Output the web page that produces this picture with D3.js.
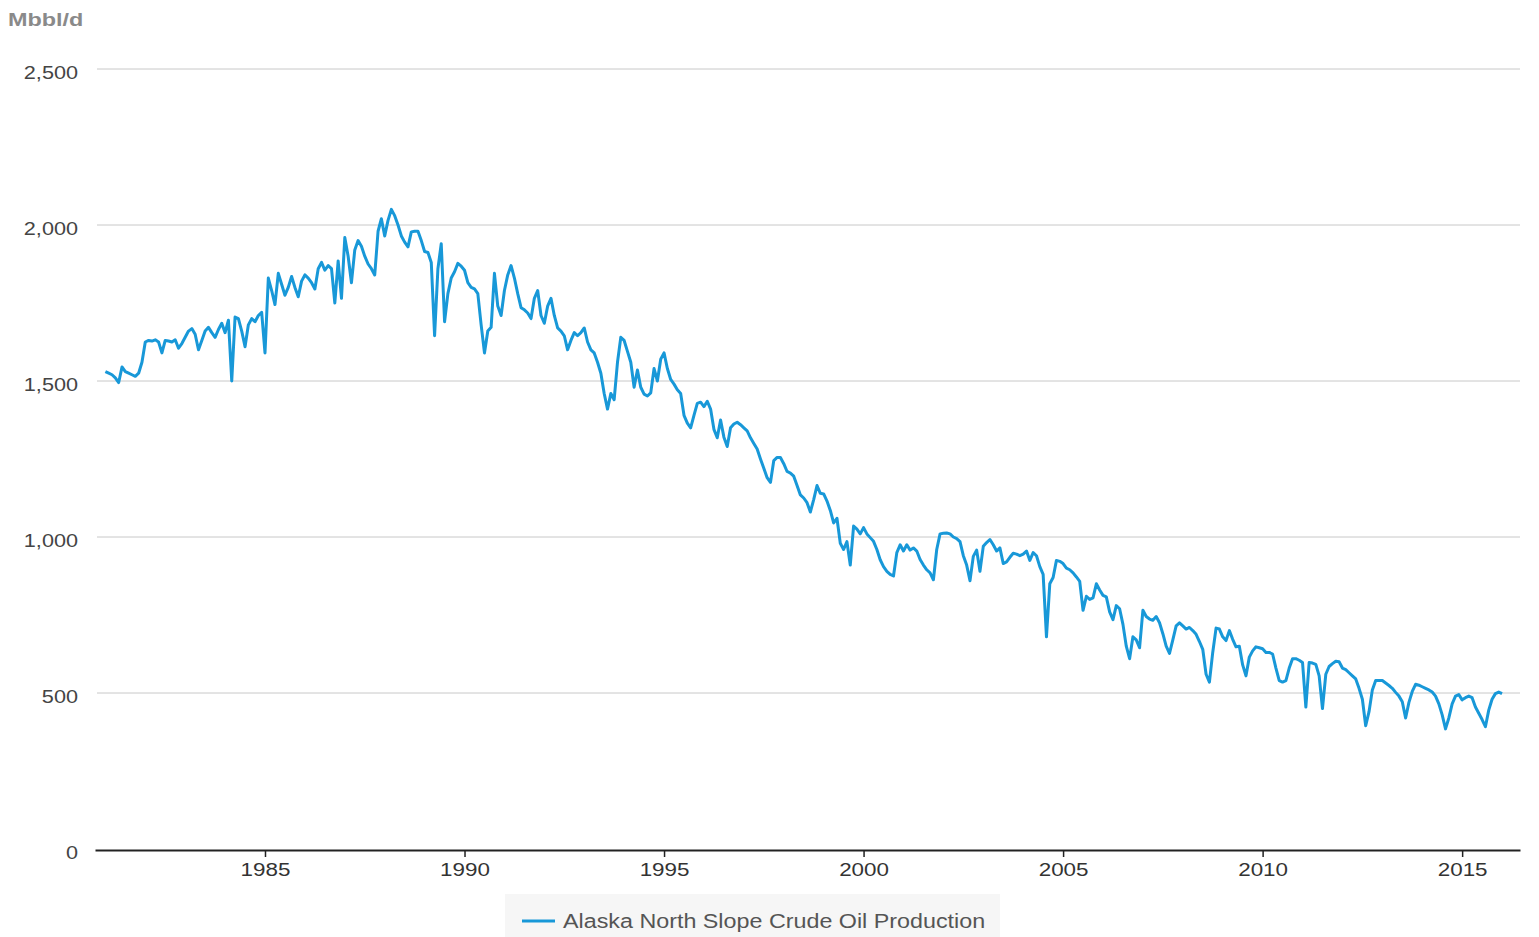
<!DOCTYPE html>
<html>
<head>
<meta charset="utf-8">
<script src="https://cdn.jsdelivr.net/npm/d3@7"></script>
<style>
  html, body { margin: 0; padding: 0; background: #fff; }
  svg { display: block; font-family: Arial, "Liberation Sans", sans-serif; }
</style>
</head>
<body>
<div id="chart"></div>
<script>
// Alaska North Slope crude oil production, monthly, Mbbl/d
const seriesName = 'Alaska North Slope Crude Oil Production';
const unitLabel = 'Mbbl/d';
const startYear = 1981;   // first value is January 1981
const yTicks = [0, 500, 1000, 1500, 2000, 2500];
const xTicks = [1985, 1990, 1995, 2000, 2005, 2010, 2015];

// one row per year, Jan..Dec
const prod1980s = [
    1530, 1525, 1520, 1510, 1495, 1545, 1530, 1525, 1520, 1515, 1525, 1560, // 1981
    1625, 1630, 1628, 1632, 1625, 1590, 1630, 1628, 1625, 1632, 1605, 1620, // 1982
    1640, 1660, 1668, 1650, 1600, 1630, 1660, 1672, 1655, 1640, 1665, 1685, // 1983
    1655, 1695, 1500, 1705, 1700, 1660, 1610, 1680, 1700, 1690, 1710, 1720, // 1984
    1590, 1830, 1790, 1745, 1845, 1810, 1775, 1800, 1835, 1800, 1770, 1820, // 1985
    1840, 1830, 1815, 1795, 1860, 1880, 1855, 1870, 1860, 1750, 1885, 1765, // 1986
    1960, 1900, 1815, 1920, 1950, 1932, 1900, 1875, 1860, 1840, 1980, 2020, // 1987
    1965, 2015, 2050, 2030, 2000, 1965, 1945, 1930, 1978, 1980, 1980, 1950, // 1988
    1915, 1912, 1880, 1645, 1860, 1940, 1690, 1780, 1830, 1850, 1877, 1868  // 1989
];
const prod1990s = [
    1855, 1815, 1800, 1795, 1780, 1680, 1590, 1660, 1672, 1845, 1740, 1710, // 1990
    1790, 1840, 1870, 1830, 1780, 1735, 1728, 1718, 1700, 1765, 1790, 1710, // 1991
    1685, 1740, 1765, 1710, 1670, 1660, 1645, 1600, 1630, 1655, 1645, 1655, // 1992
    1670, 1625, 1600, 1590, 1560, 1525, 1460, 1410, 1460, 1440, 1560, 1640, // 1993
    1630, 1595, 1560, 1480, 1535, 1480, 1458, 1452, 1462, 1540, 1500, 1570, // 1994
    1590, 1540, 1505, 1490, 1472, 1460, 1390, 1365, 1350, 1390, 1428, 1432, // 1995
    1418, 1435, 1410, 1345, 1318, 1375, 1320, 1290, 1350, 1362, 1368, 1360, // 1996
    1350, 1340, 1318, 1300, 1282, 1250, 1220, 1190, 1175, 1245, 1255, 1255, // 1997
    1235, 1210, 1205, 1195, 1165, 1135, 1125, 1110, 1080, 1120, 1165, 1140, // 1998
    1138, 1115, 1085, 1045, 1060, 980, 960, 985, 910, 1035, 1025, 1010      // 1999
];
const prod2000s = [
    1030, 1010, 998, 986, 960, 927, 905, 890, 880, 875, 950, 975,           // 2000
    955, 975, 958, 965, 955, 928, 910, 895, 885, 863, 960, 1010,            // 2001
    1012, 1013, 1010, 1000, 995, 985, 940, 910, 860, 938, 958, 890,         // 2002
    970, 982, 992, 975, 955, 965, 915, 920, 935, 948, 945, 940,             // 2003
    945, 955, 925, 950, 940, 905, 880, 680, 850, 870, 925, 922,             // 2004
    915, 900, 895, 885, 872, 858, 765, 810, 800, 805, 850, 830,             // 2005
    813, 808, 760, 735, 780, 770, 720, 650, 610, 680, 670, 645,             // 2006
    765, 745, 737, 733, 745, 725, 690, 650, 627, 670, 715, 725,             // 2007
    715, 705, 710, 700, 688, 665, 640, 560, 535, 630, 708, 705,             // 2008
    680, 668, 700, 672, 648, 650, 590, 555, 615, 635, 648, 645              // 2009
];
const prod2010s = [
    642, 630, 630, 625, 580, 540, 535, 540, 580, 610, 610, 605,             // 2010
    598, 455, 598, 596, 592, 555, 450, 560, 585, 594, 602, 600,             // 2011
    580, 575, 565, 555, 545, 515, 480, 395, 440, 510, 540, 540,             // 2012
    540, 532, 524, 515, 502, 490, 472, 420, 470, 505, 528, 525,             // 2013
    520, 515, 510, 503, 490, 465, 430, 385, 420, 465, 490, 495,             // 2014
    478, 485, 490, 485, 455, 435, 415, 392, 445, 480, 498, 503,             // 2015
    498                                                                     // 2016
];

const W = 1539, H = 937;
const lineColor = '#1898d8';
const stretch = 1.14;   // the source text is drawn a little wide

const data = [].concat(prod1980s, prod1990s, prod2000s, prod2010s)
    .map((v, i) => ({ t: startYear + i / 12, v: v }));

const svg = d3.select('#chart').append('svg')
    .attr('width', W)
    .attr('height', H);

// plot spans x 95..1520 (1985 at ~265, 2015 at ~1462)
const x = d3.scaleLinear()
    .domain([1980.74, 2016.45])
    .range([95, 1520]);

const y = d3.scaleLinear()
    .domain([0, 2500])
    .range([849, 69]);

// gridlines
svg.append('g')
    .selectAll('line')
    .data(yTicks.filter(d => d > 0))
    .join('line')
    .attr('x1', x.range()[0] + 2)
    .attr('x2', x.range()[1])
    .attr('y1', d => y(d))
    .attr('y2', d => y(d))
    .attr('stroke', '#c8c8c8')
    .attr('stroke-width', 1);

// y labels
svg.append('g')
    .selectAll('text')
    .data(yTicks)
    .join('text')
    .attr('transform', d => `translate(78,${y(d) + 3}) scale(${stretch},1)`)
    .attr('dy', '0.35em')
    .attr('text-anchor', 'end')
    .attr('font-size', 19)
    .attr('fill', '#444')
    .text(d => d3.format(',')(d));

// unit label
svg.append('text')
    .attr('transform', 'translate(8,26) scale(1.3,1)')
    .attr('font-size', 18)
    .attr('font-weight', 'bold')
    .attr('fill', '#8a8a8a')
    .text(unitLabel);

// x axis
const xAxis = svg.append('g')
    .attr('transform', `translate(0,${y(0) + 1})`)
    .call(d3.axisBottom(x)
        .tickValues(xTicks)
        .tickFormat(d3.format('d'))
        .tickSize(7)
        .tickSizeOuter(0));
xAxis.select('.domain').attr('stroke', '#222').attr('stroke-width', 2);
xAxis.selectAll('.tick line').attr('stroke', '#222').attr('stroke-width', 1.5);
xAxis.selectAll('.tick text')
    .attr('font-size', 19)
    .attr('font-family', 'Arial, "Liberation Sans", sans-serif')
    .attr('fill', '#333')
    .attr('y', 0)
    .attr('dy', '0')
    .attr('transform', `translate(0,26) scale(${stretch + 0.04},1)`);

// series line
const line = d3.line()
    .x(d => x(d.t))
    .y(d => y(d.v));

svg.append('path')
    .datum(data)
    .attr('fill', 'none')
    .attr('stroke', lineColor)
    .attr('stroke-width', 3)
    .attr('stroke-linejoin', 'round')
    .attr('d', line);

// legend
const legend = svg.append('g').attr('transform', 'translate(505,894)');
legend.append('rect')
    .attr('width', 495)
    .attr('height', 43)
    .attr('fill', '#f6f6f6');
legend.append('line')
    .attr('x1', 17)
    .attr('x2', 50)
    .attr('y1', 27)
    .attr('y2', 27)
    .attr('stroke', lineColor)
    .attr('stroke-width', 3);
legend.append('text')
    .attr('transform', `translate(58,27) scale(1.11,1)`)
    .attr('dy', '0.35em')
    .attr('font-size', 21)
    .attr('fill', '#555')
    .text(seriesName);
</script>
</body>
</html>
